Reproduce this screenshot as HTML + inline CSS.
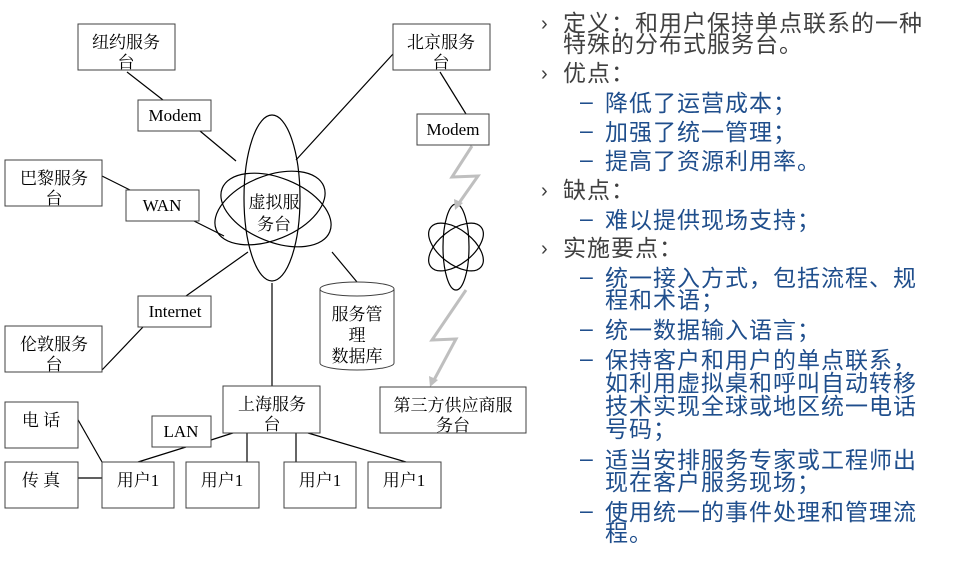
<!DOCTYPE html>
<html><head><meta charset="utf-8"><style>
html,body{margin:0;padding:0;background:#fff;}
svg{display:block;}
.b{fill:#fff;stroke:#404040;stroke-width:1;}
.l{stroke:#000;stroke-width:1.2;fill:none;}
.t{font-family:"Liberation Serif","Noto Serif CJK SC",serif;font-size:17px;fill:#000;text-anchor:middle;}
.g{font-family:"Liberation Sans","Noto Sans CJK SC",sans-serif;font-size:23px;fill:#404040;letter-spacing:1px;}
.u{font-family:"Liberation Sans","Noto Sans CJK SC",sans-serif;font-size:23px;fill:#1f4e8c;letter-spacing:1px;}
</style></head><body>
<svg width="960" height="570" viewBox="0 0 960 570" xmlns="http://www.w3.org/2000/svg">
<g class="l">
<line x1="127" y1="72" x2="163" y2="100"/>
<line x1="200" y1="131" x2="236" y2="161"/>
<line x1="393" y1="54" x2="296" y2="160"/>
<line x1="440" y1="72" x2="466" y2="114"/>
<line x1="102" y1="176" x2="132" y2="191"/>
<line x1="194" y1="221" x2="224" y2="236"/>
<line x1="248" y1="252" x2="186" y2="296"/>
<line x1="143" y1="327" x2="102" y2="370"/>
<line x1="272" y1="283" x2="272" y2="386"/>
<line x1="332" y1="252" x2="357" y2="282"/>
<line x1="77" y1="418" x2="102" y2="462"/>
<line x1="78" y1="478" x2="102" y2="478"/>
<line x1="138" y1="462" x2="186" y2="447"/>
<line x1="211" y1="440" x2="236" y2="432"/>
<line x1="247" y1="433" x2="247" y2="462"/>
<line x1="296" y1="433" x2="296" y2="462"/>
<line x1="308" y1="433" x2="406" y2="462"/>
</g>
<g class="l">
<ellipse cx="272" cy="198" rx="28" ry="83"/>
<ellipse cx="276" cy="210" rx="58" ry="32" transform="rotate(22 276 210)"/>
<ellipse cx="270" cy="208" rx="58" ry="32" transform="rotate(-22 270 208)"/>
</g>
<text class="t" x="274" y="208">虚拟服</text>
<text class="t" x="274" y="230">务台</text>
<g class="l">
<ellipse cx="456" cy="247" rx="13" ry="43"/>
<ellipse cx="456" cy="247" rx="32" ry="17" transform="rotate(38 456 247)"/>
<ellipse cx="456" cy="247" rx="32" ry="17" transform="rotate(-38 456 247)"/>
</g>
<g stroke="#bfbfbf" stroke-width="3" fill="none">
<polyline points="472,146 452,177 478,176 459,203"/>
<polyline points="466,290 432,340 456,339 434,380"/>
</g>
<polygon points="455,210 454,199 463,203" fill="#bfbfbf"/>
<polygon points="430,387 429,376 438,380" fill="#bfbfbf"/>
<rect class="b" x="78" y="24" width="97" height="46"/>
<text class="t" x="126" y="48">纽约服务</text><text class="t" x="126" y="68">台</text>
<rect class="b" x="393" y="24" width="97" height="46"/>
<text class="t" x="441" y="48">北京服务</text><text class="t" x="441" y="68">台</text>
<rect class="b" x="138" y="100" width="73" height="31"/>
<text class="t" x="175" y="121">Modem</text>
<rect class="b" x="417" y="114" width="72" height="31"/>
<text class="t" x="453" y="135">Modem</text>
<rect class="b" x="5" y="160" width="97" height="46"/>
<text class="t" x="54" y="184">巴黎服务</text><text class="t" x="54" y="204">台</text>
<rect class="b" x="126" y="190" width="73" height="31"/>
<text class="t" x="162" y="211">WAN</text>
<rect class="b" x="138" y="296" width="73" height="31"/>
<text class="t" x="175" y="317">Internet</text>
<rect class="b" x="5" y="326" width="97" height="46"/>
<text class="t" x="54" y="350">伦敦服务</text><text class="t" x="54" y="370">台</text>
<path d="M320,289 L320,363 A37,7 0 0 0 394,363 L394,289" class="b"/>
<ellipse cx="357" cy="289" rx="37" ry="7" class="b"/>
<text class="t" x="357" y="320">服务管</text>
<text class="t" x="357" y="341">理</text>
<text class="t" x="357" y="362">数据库</text>
<rect class="b" x="223" y="386" width="97" height="47"/>
<text class="t" x="272" y="410">上海服务</text><text class="t" x="272" y="430">台</text>
<rect class="b" x="380" y="387" width="146" height="46"/>
<text class="t" x="453" y="411">第三方供应商服</text><text class="t" x="453" y="431">务台</text>
<rect class="b" x="152" y="416" width="59" height="31"/>
<text class="t" x="181" y="437">LAN</text>
<rect class="b" x="5" y="402" width="73" height="46"/>
<text class="t" x="41" y="426">电 话</text>
<rect class="b" x="5" y="462" width="73" height="46"/>
<text class="t" x="41" y="486">传 真</text>
<rect class="b" x="102" y="462" width="72" height="46"/>
<text class="t" x="138" y="486">用户1</text>
<rect class="b" x="186" y="462" width="73" height="46"/>
<text class="t" x="222" y="486">用户1</text>
<rect class="b" x="284" y="462" width="72" height="46"/>
<text class="t" x="320" y="486">用户1</text>
<rect class="b" x="368" y="462" width="73" height="46"/>
<text class="t" x="404" y="486">用户1</text>
<g class="g">
<text x="541" y="30" font-size="20">›</text><text x="563" y="31">定义：和用户保持单点联系的一种</text>
<text x="563" y="52">特殊的分布式服务台。</text>
<text x="541" y="80" font-size="20">›</text><text x="563" y="81">优点：</text>
<text x="541" y="197" font-size="20">›</text><text x="563" y="198">缺点：</text>
<text x="541" y="255" font-size="20">›</text><text x="563" y="256">实施要点：</text>
</g>
<g class="u">
<text x="580" y="109">–</text><text x="605" y="111">降低了运营成本；</text>
<text x="580" y="138">–</text><text x="605" y="140">加强了统一管理；</text>
<text x="580" y="167">–</text><text x="605" y="169">提高了资源利用率。</text>
<text x="580" y="226">–</text><text x="605" y="228">难以提供现场支持；</text>
<text x="580" y="284">–</text><text x="605" y="286">统一接入方式，包括流程、规</text>
<text x="605" y="308">程和术语；</text>
<text x="580" y="336">–</text><text x="605" y="338">统一数据输入语言；</text>
<text x="580" y="366">–</text><text x="605" y="368">保持客户和用户的单点联系，</text>
<text x="605" y="391">如利用虚拟桌和呼叫自动转移</text>
<text x="605" y="414">技术实现全球或地区统一电话</text>
<text x="605" y="437">号码；</text>
<text x="580" y="466">–</text><text x="605" y="468">适当安排服务专家或工程师出</text>
<text x="605" y="490">现在客户服务现场；</text>
<text x="580" y="518">–</text><text x="605" y="520">使用统一的事件处理和管理流</text>
<text x="605" y="541">程。</text>
</g>
</svg>
</body></html>
